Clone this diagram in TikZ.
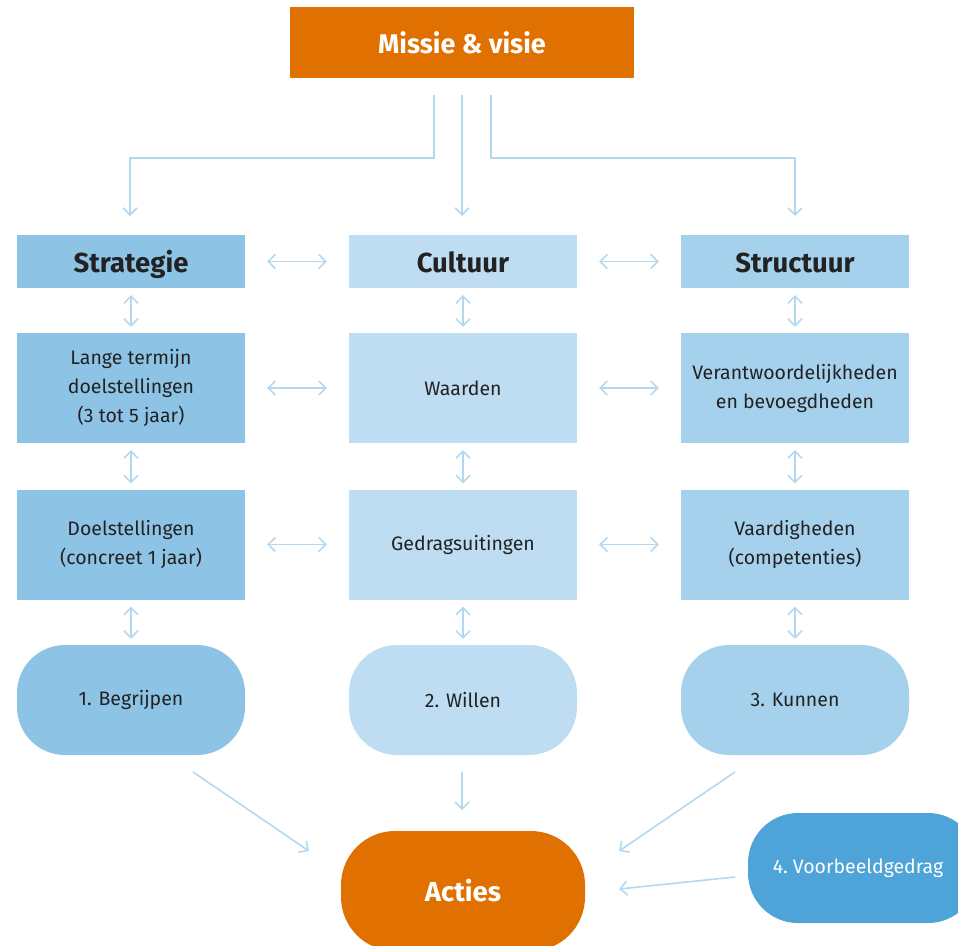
\documentclass[tikz,border=0pt]{standalone}
\usepackage{fontspec}
\setmainfont{Fira Sans}
\usetikzlibrary{arrows.meta,positioning}
\definecolor{orangec}{HTML}{E07000}
\definecolor{blueA}{HTML}{8DC4E6}
\definecolor{blueB}{HTML}{BEDDF2}
\definecolor{blueC}{HTML}{A6D1EC}
\definecolor{blueD}{HTML}{4EA3D8}
\definecolor{linec}{HTML}{B3D8EF}
\definecolor{txt}{HTML}{222222}
\begin{document}
\begin{tikzpicture}[x=1pt,y=-1pt,
  box/.style={minimum width=228pt,inner sep=0pt,align=center,text=txt,font=\fontsize{19.5}{29}\selectfont},
  head/.style={box,minimum height=53pt,text height=22pt,text depth=0pt,font=\fontsize{27.5}{30}\selectfont\bfseries},
  mid/.style={box,minimum height=110pt},
  pill/.style={box,minimum height=110pt,rounded corners=48pt},
  conn/.style={draw=linec,line width=1.6pt,-{Straight Barb[length=7pt,width=14pt]}},
  dconn/.style={draw=linec,line width=1.6pt,{Straight Barb[length=7pt,width=14pt]}-{Straight Barb[length=7pt,width=14pt]}}]
\useasboundingbox (0,0) rectangle (958,945);
\begin{scope}
\clip (0,0) rectangle (958,945);
% top box
\node[box,fill=orangec,text=white,minimum width=344pt,minimum height=71pt,font=\fontsize{27}{30}\selectfont\bfseries] (mv) at (462,42.5) {Missie \& visie};
% header row
\node[head,fill=blueA] (s1) at (131,261.5) {Strategie};
\node[head,fill=blueB] (c1) at (463,261.5) {Cultuur};
\node[head,fill=blueC] (t1) at (795,261.5) {Structuur};
% second row
\node[mid,fill=blueA] (s2) at (131,388) {Lange termijn\\doelstellingen\\(3 tot 5 jaar)};
\node[mid,fill=blueB] (c2) at (463,388) {Waarden};
\node[mid,fill=blueC] (t2) at (795,388) {Verantwoordelijkheden\\en bevoegdheden};
% third row
\node[mid,fill=blueA] (s3) at (131,544.5) {Doelstellingen\\(concreet 1 jaar)};
\node[mid,fill=blueB] (c3) at (463,544.5) {Gedragsuitingen};
\node[mid,fill=blueC] (t3) at (795,544.5) {Vaardigheden\\(competenties)};
% outcome row
\node[pill,fill=blueA] (s4) at (131,700) {1. Begrijpen};
\node[pill,fill=blueB] (c4) at (463,700) {2. Willen};
\node[pill,fill=blueC] (t4) at (795,700) {3. Kunnen};
% actions and role-model behaviour
\node[pill,fill=orangec,text=white,minimum width=244pt,minimum height=120pt,rounded corners=54pt,font=\fontsize{27.5}{30}\selectfont\bfseries] (ac) at (463,891) {Acties};
\node[pill,fill=blueD,text=white,minimum width=230pt,rounded corners=50pt] (vb) at (863,868) {4.~Voorbeeldgedrag\hspace*{10pt}};

% connectors from the top box
\coordinate (m1) at (434,95);
\coordinate (m2) at (462,95);
\coordinate (m3) at (491,95);
\coordinate (e1) at (130,216);
\coordinate (e2) at (462,216);
\coordinate (e3) at (795,216);
\draw[conn] (m1) -- (434,158) -- (130,158) -- (e1);
\draw[conn] (m2) -- (e2);
\draw[conn] (m3) -- (491,158) -- (795,158) -- (e3);

% horizontal links
\foreach \a/\b in {s1/c1,c1/t1,s2/c2,c2/t2,s3/c3,c3/t3}
  \draw[dconn] ([xshift=22pt]\a.east) -- ([xshift=-22pt]\b.west);
% vertical links
\foreach \a/\b in {s1/s2,s2/s3,s3/s4,c1/c2,c2/c3,c3/c4,t1/t2,t2/t3,t3/t4}
  \draw[dconn] ([yshift=-7pt]\a.south) -- ([yshift=6pt]\b.north);

% links to the actions
\coordinate (a1) at (193,772);
\coordinate (a2) at (462,772);
\coordinate (a3) at (735,772);
\coordinate (a4) at (735,877);
\draw[conn] (a1) -- (309,851);
\draw[conn] (a2) -- (462,810);
\draw[conn] (a3) -- (619,851);
\draw[conn] (a4) -- (619,889);
\end{scope}
\end{tikzpicture}
\end{document}
